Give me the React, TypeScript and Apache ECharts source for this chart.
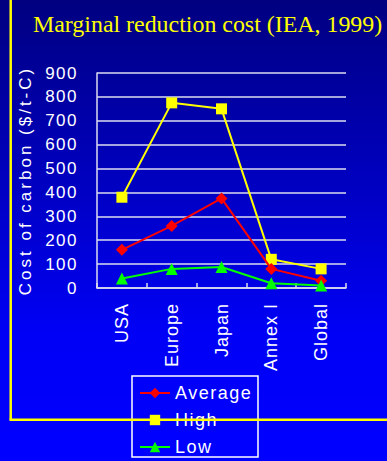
import React, { useEffect, useRef } from "react";
import * as echarts from "echarts";

const categories = ["USA", "Europe", "Japan", "Annex I", "Global"];
const averageValues = [160, 260, 375, 80, 30];
const highValues = [380, 775, 750, 120, 80];
const lowValues = [40, 80, 88, 20, 10];
const yTicks = { min: 0, max: 900, interval: 100 };
const titleText = "Marginal reduction cost (IEA, 1999)";
const yAxisName = "Cost of carbon ($/t-C)";

export default function App() {
  const ref = useRef<HTMLDivElement>(null);

  useEffect(() => {
    const el = ref.current!;
    const chart = echarts.init(el, undefined, { renderer: "svg" });

    const applySpacing = () => {
      el.querySelectorAll("text").forEach((t) => {
        const s = t.textContent || "";
        let ls = "0px";
        if (s.indexOf("Marginal") >= 0) ls = "0px";
        else if (s.indexOf("Cost") >= 0) ls = "3px";
        else if (["Average", "High", "Low"].indexOf(s) >= 0) ls = "1.5px";
        else if (/^\d+$/.test(s)) ls = "1.5px";
        else if (categories.indexOf(s) >= 0) ls = "1px";
        (t as SVGTextElement).style.letterSpacing = ls;
      });
    };
    chart.on("finished", applySpacing);

    const font = "Liberation Sans, Arial, sans-serif";
    const white = "#ffffff";
    const lineColor = "#dcdcf0";

    chart.setOption({
      animation: false,
      textStyle: { fontFamily: font },
      graphic: [
        {
          type: "rect",
          z: -100,
          silent: true,
          shape: { x: 0, y: 0, width: 387, height: 461 },
          style: {
            fill: new echarts.graphic.LinearGradient(0, 0, 0, 1, [
              { offset: 0, color: "#000080" },
              { offset: 0.72, color: "#0000f6" },
              { offset: 1, color: "#0000ff" },
            ]),
          },
        },
        {
          type: "text",
          x: 33,
          y: 24,
          z: 10,
          style: {
            text: titleText,
            fill: "#ffff00",
            font: "23.9px 'Liberation Serif', 'Times New Roman', serif",
            textAlign: "left",
            textVerticalAlign: "middle",
          },
        },
        {
          type: "rect",
          z: 5,
          shape: { x: 132, y: 376, width: 126, height: 81 },
          style: { fill: "none", stroke: white, lineWidth: 1.5 },
        },
        {
          type: "line",
          z: 50,
          shape: { x1: 10.7, y1: 0, x2: 10.7, y2: 419.7 },
          style: { stroke: "#ffff00", lineWidth: 2.5 },
        },
        {
          type: "line",
          z: 50,
          shape: { x1: 9.5, y1: 419.7, x2: 387, y2: 419.7 },
          style: { stroke: "#ffff00", lineWidth: 2.5 },
        },
      ],
      grid: { left: 97, right: 41, top: 73, bottom: 173, containLabel: false },
      legend: {
        orient: "vertical",
        left: 139,
        top: 384,
        padding: 0,
        itemWidth: 30,
        itemHeight: 13,
        itemGap: 9,
        data: ["Average", "High", "Low"],
        textStyle: { color: white, fontSize: 18, lineHeight: 18, fontFamily: font },
        z: 10,
      },
      xAxis: {
        type: "category",
        data: categories,
        boundaryGap: true,
        axisLine: { show: true, lineStyle: { color: lineColor, width: 1.5 } },
        axisTick: { show: true, inside: true, length: 5, lineStyle: { color: lineColor, width: 1.5 } },
        axisLabel: { rotate: 90, color: white, fontSize: 18, margin: 15, fontFamily: font },
        splitLine: { show: false },
      },
      yAxis: {
        type: "value",
        min: yTicks.min,
        max: yTicks.max,
        interval: yTicks.interval,
        name: yAxisName,
        nameLocation: "middle",
        nameGap: 63,
        nameTextStyle: { color: white, fontSize: 17, fontFamily: font },
        axisLine: { show: true, lineStyle: { color: lineColor, width: 1.5 } },
        axisTick: { show: false },
        axisLabel: { color: white, fontSize: 17, margin: 19, fontFamily: font },
        splitLine: { show: true, lineStyle: { color: lineColor, width: 1.5 } },
      },
      series: [
        {
          name: "Average",
          type: "line",
          data: averageValues,
          z: 3,
          symbol: "diamond",
          symbolSize: 12,
          lineStyle: { color: "#ff0000", width: 2 },
          itemStyle: { color: "#ff0000" },
        },
        {
          name: "High",
          type: "line",
          data: highValues,
          z: 2,
          symbol: "rect",
          symbolSize: 11,
          lineStyle: { color: "#ffff00", width: 2 },
          itemStyle: { color: "#ffff00" },
        },
        {
          name: "Low",
          type: "line",
          data: lowValues,
          z: 4,
          symbol: "triangle",
          symbolSize: 12,
          lineStyle: { color: "#00ff00", width: 2 },
          itemStyle: { color: "#00ff00" },
        },
      ],
    });
    applySpacing();

    return () => {
      chart.dispose();
    };
  }, []);

  return (
    <div
      ref={ref}
      style={{ position: "absolute", left: 0, top: 0, width: 387, height: 461 }}
    />
  );
}
